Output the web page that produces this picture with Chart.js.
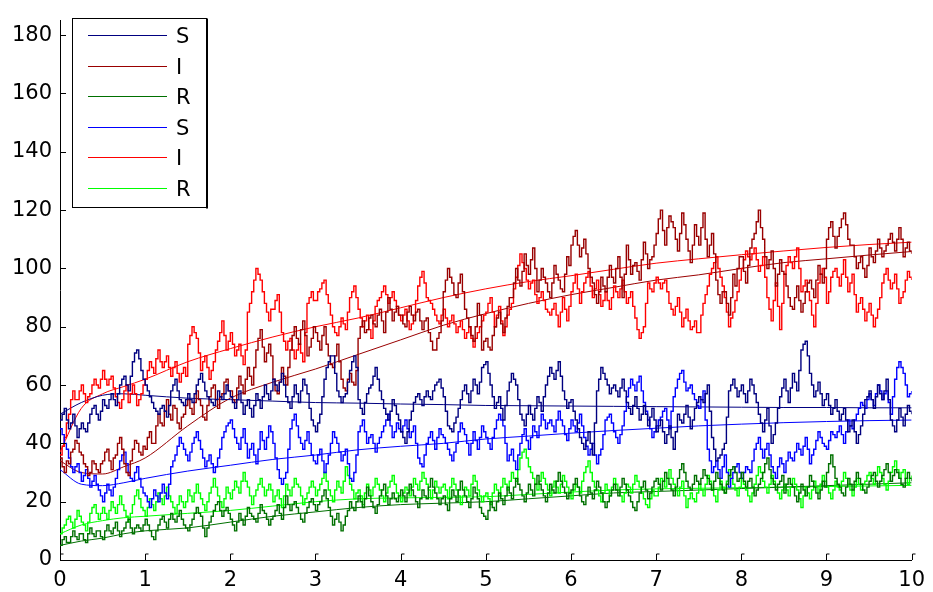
<!DOCTYPE html>
<html>
<head>
<meta charset="utf-8">
<title>SIR stochastic vs deterministic</title>
<script src="https://cdn.jsdelivr.net/npm/chart.js@4"></script>
<style>
  html, body { margin: 0; padding: 0; background: #fff; }
  #sir-chart { display: block; }
</style>
</head>
<body>
<canvas id="sir-chart" width="933" height="592"></canvas>
<script>
// legend labels, one per plotted series (dark run first, bright run second)
const seriesLabels = ['S', 'I', 'R', 'S', 'I', 'R'];
const seriesColors = ['#000080', '#990000', '#007000', '#0000ff', '#ff0000', '#00ff00'];

const yTickValues = [0, 20, 40, 60, 80, 100, 120, 140, 160, 180];

// stochastic runs, read every 0.025 time units from t = 0 to t = 10
// (one line = 0.25 time units)
const sDark = [
  48,50,52,48,45,47,50,46,42,45, 47,45,44,47,50,52,53,50,48,51,
  55,53,52,55,57,55,53,57,60,62, 63,60,58,63,68,71,72,69,65,62,
  60,58,56,54,52,51,50,52,53,51, 49,53,58,60,62,58,55,54,53,55,
  57,55,54,57,60,62,64,61,58,56, 55,54,53,55,58,56,55,57,60,58,
  56,54,52,55,58,54,50,53,55,52, 49,53,57,55,52,56,60,57,55,58,
  62,60,58,61,64,60,56,54,52,56, 60,57,54,58,62,60,57,52,48,46,
  44,47,50,56,62,66,68,70,70,64, 58,56,54,56,57,61,65,68,70,66,
  55,52,50,54,57,59,60,63,66,62, 58,55,52,50,48,51,55,53,50,48,
  44,42,40,44,48,51,54,56,57,55, 53,56,58,56,55,58,60,61,62,59,
  56,51,46,45,44,47,49,52,55,58, 60,57,54,58,62,60,57,61,66,67,
  68,64,60,56,52,54,56,52,48,53, 58,61,64,62,60,55,50,48,46,50,
  53,50,48,52,56,54,51,56,60,63, 66,64,62,65,68,63,58,55,52,54,
  55,51,48,45,42,40,38,41,44,40, 36,47,58,62,66,64,62,60,57,59,
  60,58,56,59,62,58,54,52,50,53, 56,52,48,50,53,50,46,49,52,48,
  44,46,48,44,40,43,46,42,38,44, 50,48,47,50,53,49,45,48,52,54,
  56,55,54,57,60,51,42,38,34,35, 36,38,40,49,58,60,62,59,56,58,
  60,57,54,58,62,60,57,54,50,47, 44,48,52,46,40,43,47,52,56,59,
  62,58,54,59,64,61,58,65,72,74, 75,70,64,60,56,58,61,57,53,55,
  57,53,50,52,55,51,48,50,52,48, 44,46,48,44,40,43,46,50,55,56,
  58,55,52,56,60,57,55,58,62,55, 48,46,44,48,52,49,46,50,53,51,
  50
];
const iDark = [
  35,32,30,34,33,37,38,41,40,37, 36,33,32,29,30,34,33,31,30,33,
  34,37,38,34,31,35,36,40,42,38, 33,30,29,34,38,41,40,37,36,39,
  38,42,44,40,40,46,50,47,46,51, 55,50,48,53,52,47,45,49,50,53,
  55,52,50,54,58,55,53,49,48,53, 56,59,60,55,52,56,57,61,62,58,
  58,55,54,59,63,60,57,62,66,63, 60,66,72,76,79,73,68,71,74,70,
  62,58,57,61,66,63,60,66,72,77, 80,76,74,79,82,77,70,73,76,80,
  78,75,72,77,80,74,70,67,66,70, 74,68,62,59,58,62,64,61,60,65,
  76,80,82,78,79,83,84,81,80,84, 86,82,78,85,90,86,82,85,87,84,
  84,81,80,85,87,84,82,85,86,82, 79,82,83,78,75,72,72,76,78,82,
  92,96,100,97,95,91,90,95,98,92, 86,83,80,77,75,80,88,84,72,75,
  76,73,72,77,80,83,85,81,78,83, 87,90,90,95,100,96,94,99,105,101,
  98,103,107,100,92,96,100,97,95,92, 90,95,101,98,96,93,92,98,104,101,
  108,111,113,108,104,107,110,105,100,97, 95,91,88,92,97,94,92,97,101,97,
  95,100,104,97,90,98,108,103,98,101, 102,99,96,103,109,105,100,103,104,108,
  112,117,120,113,108,114,118,116,114,110, 106,112,119,115,110,106,102,108,115,111,
  108,114,119,110,104,108,112,105,96,91, 88,92,92,88,84,90,98,94,100,104,
  104,99,95,101,107,110,112,116,120,114, 110,104,100,103,106,100,94,98,103,99,
  98,94,90,87,86,90,94,89,85,88, 92,95,96,93,90,96,101,98,95,100,
  110,114,116,111,107,111,114,117,119,115, 110,108,108,104,100,102,104,100,97,101,
  107,104,102,106,110,107,104,106,108,110, 112,109,106,110,114,110,104,107,109,106,
  105
];
const rDark = [
  5,7,8,6,6,8,10,8,7,9, 9,7,6,9,11,9,8,10,10,8,
  7,10,12,10,9,11,13,10,8,10, 11,13,14,11,9,11,12,11,10,12,
  14,12,10,8,7,10,12,14,15,13, 11,14,16,14,13,15,17,14,12,11,
  10,12,14,16,18,16,15,11,8,11, 13,15,17,19,20,17,15,17,18,16,
  14,12,10,13,16,14,12,15,18,16, 15,14,13,16,19,17,16,14,12,14,
  15,17,19,16,14,18,22,19,17,19, 20,18,16,14,13,16,18,20,21,19,
  17,19,20,22,24,21,18,15,12,14, 16,13,10,12,15,17,20,18,17,20,
  22,20,18,21,25,22,20,18,16,19, 22,24,26,22,19,21,23,21,20,22,
  24,22,20,23,26,24,22,20,18,21, 24,22,21,25,28,25,23,21,19,21,
  22,19,17,21,24,22,20,24,27,24, 22,20,18,21,25,23,21,18,16,15,
  14,17,20,18,17,20,23,21,19,22, 25,23,21,25,28,26,24,22,20,23,
  26,24,22,26,29,26,24,22,20,23, 26,24,23,27,30,27,25,23,21,23,
  24,26,28,25,22,20,19,22,25,23, 21,24,27,25,23,20,18,20,22,24,
  26,24,22,25,28,26,24,22,20,18, 17,20,23,25,27,24,21,23,25,27,
  28,26,24,27,30,28,26,24,22,25, 28,31,33,30,27,25,24,26,29,27,
  26,28,31,29,28,26,24,27,30,28, 26,24,23,26,29,31,32,30,27,28,
  30,27,25,27,28,25,22,24,26,28, 30,33,35,31,28,26,24,26,27,29,
  23,26,28,26,25,22,20,23,26,24, 22,25,29,27,25,23,21,24,27,25,
  30,33,36,32,28,26,25,23,22,25, 28,26,24,27,30,28,26,24,23,25,
  27,29,30,27,25,27,29,31,33,30, 27,29,31,30,28,26,25,28,30,28,
  27
];
const sBright = [
  45,43,40,38,35,32,30,32,33,30, 27,29,31,28,25,27,29,26,24,22,
  20,23,26,24,22,25,28,31,34,36, 37,33,30,28,27,30,32,28,25,23,
  22,20,18,21,24,22,20,23,26,23, 21,26,32,34,36,39,42,40,38,36,
  34,37,40,42,44,41,38,35,32,34, 36,33,30,32,35,38,42,44,46,47,
  48,45,42,40,38,42,45,40,35,38, 40,36,33,38,44,41,38,42,46,44,
  40,35,31,28,26,28,30,38,45,48, 50,46,42,40,38,41,44,40,36,34,
  33,36,38,34,30,33,36,40,44,42, 40,37,34,36,38,33,28,27,30,36,
  44,46,48,44,40,42,43,40,37,40, 42,44,46,48,50,46,42,44,47,45,
  44,46,48,45,42,44,46,40,35,33, 32,36,40,42,44,41,38,42,45,43,
  42,40,38,36,34,37,40,44,47,45, 43,40,36,40,44,41,38,42,46,44,
  42,40,38,42,45,48,50,48,46,40, 34,36,38,34,31,36,40,43,45,41,
  38,42,46,44,42,46,50,48,45,47, 48,46,44,48,51,48,46,43,41,45,
  48,46,44,47,50,46,42,39,36,38, 40,36,33,36,38,43,48,49,50,47,
  44,42,40,43,46,51,56,59,62,60, 58,61,63,58,54,51,48,45,42,44,
  46,48,49,51,52,48,45,51,56,59, 62,64,65,61,58,59,60,57,55,53,
  52,55,58,48,38,34,30,32,34,31, 28,32,36,30,25,28,30,32,33,30,
  28,30,32,31,30,34,38,40,42,38, 35,38,40,36,32,30,28,32,35,33,
  30,34,37,35,34,37,40,38,36,39, 42,38,33,36,38,41,44,42,40,39,
  38,41,44,43,42,44,46,43,40,44, 48,46,45,48,50,52,54,53,52,55,
  57,55,53,57,60,58,55,57,58,54, 50,56,62,66,68,66,64,60,56,57,
  58
];
const iBright = [
  36,39,42,47,50,55,58,55,55,58, 60,57,54,56,57,60,62,60,59,62,
  65,62,60,62,63,59,56,54,52,55, 58,60,54,57,60,57,53,55,57,60,
  62,65,68,66,64,69,72,68,66,68, 70,66,63,66,68,64,61,64,66,63,
  74,77,80,78,76,71,65,68,70,66, 62,65,68,72,75,78,82,77,72,75,
  78,74,70,72,74,70,67,72,85,88, 92,96,100,98,96,92,88,85,82,86,
  86,89,91,85,78,75,72,75,76,72, 69,72,74,71,68,78,88,90,92,89,
  89,92,93,95,96,91,88,84,80,78, 77,80,83,81,79,85,90,92,94,90,
  86,83,80,82,84,79,76,82,87,89, 90,92,94,91,88,90,92,89,87,84,
  82,84,86,82,79,81,84,89,94,97, 99,95,90,89,88,86,84,82,81,84,
  86,83,80,82,84,81,78,80,82,79, 76,78,80,76,73,76,78,80,82,84,
  85,88,90,85,80,84,87,82,77,80, 84,86,88,93,97,101,105,102,100,96,
  93,95,96,91,88,90,92,89,86,85, 84,86,88,84,80,85,90,86,82,87,
  92,95,98,93,88,92,95,97,99,94, 90,93,96,91,87,89,92,89,86,90,
  94,92,90,93,96,92,88,90,92,87, 83,79,76,78,80,88,95,93,92,95,
  97,95,93,95,96,92,88,86,84,87, 90,85,80,83,86,82,79,80,82,78,
  78,84,88,91,94,98,100,102,104,100, 97,94,90,85,80,83,85,89,92,96,
  100,103,106,104,103,105,107,103,99,101, 104,97,90,86,82,89,95,87,79,88,
  98,101,104,102,100,104,107,100,92,94, 96,92,89,84,80,88,95,98,100,97,
  88,92,97,99,100,97,94,98,103,97, 92,95,98,91,85,88,90,86,82,85,
  88,84,80,83,86,90,95,98,100,96, 93,95,98,93,88,90,92,96,99,97,
  96
];
const rBright = [
  9,11,12,14,15,13,11,14,17,15, 13,12,10,13,16,18,19,16,14,16,
  18,16,14,17,20,18,16,19,22,19, 17,15,13,16,19,22,24,21,18,17,
  15,18,21,19,17,20,23,21,19,22, 25,22,20,18,16,19,22,20,18,20,
  24,22,20,23,26,23,21,19,17,20, 23,25,28,25,22,20,18,21,25,23,
  21,24,27,25,23,27,30,27,25,22, 19,22,24,26,28,25,22,24,26,24,
  20,22,24,21,18,22,26,24,22,25, 28,26,25,22,19,21,23,25,27,25,
  22,24,26,28,30,27,24,22,20,24, 27,25,23,27,32,29,26,24,21,23,
  24,22,19,23,26,24,22,25,28,26, 24,22,20,23,25,27,29,26,23,22,
  20,23,25,24,22,25,28,26,24,27, 30,28,26,24,21,24,27,25,23,25,
  26,24,21,25,28,26,24,22,19,22, 25,24,22,26,29,27,24,22,20,22,
  23,21,19,23,26,24,22,25,28,26, 24,27,30,28,27,31,35,37,38,35,
  32,30,28,26,24,27,30,28,26,24, 22,25,27,25,23,26,29,27,25,23,
  21,24,26,25,23,27,30,32,34,30, 27,25,24,22,20,23,26,24,22,25,
  28,26,24,22,20,23,26,25,23,26, 29,27,25,23,21,19,18,21,24,22,
  22,25,28,27,25,28,31,28,26,24, 22,25,27,22,18,21,23,21,20,23,
  26,24,22,26,29,27,24,22,20,24, 27,25,23,27,31,28,26,24,22,25,
  28,26,24,22,20,23,26,29,32,30, 27,25,23,26,29,27,25,23,21,24,
  26,24,22,25,28,26,24,21,18,22, 25,23,21,24,27,25,23,26,29,27,
  25,23,21,24,27,25,24,27,30,28, 26,24,22,25,28,26,24,26,27,29,
  30,28,26,29,32,30,28,26,24,27, 30,32,34,31,28,30,31,28,26,28,
  29
];

// deterministic (ODE) curves
const odeTimes = [0,0.25,0.5,0.75,1,1.5,2,2.5,3,3.5,4,4.5,5,5.5,6,6.5,7,7.5,8,8.5,9,9.5,10];
const sDarkOde = [50,54,56.5,57,56.5,55.5,55,54.5,54,53.8,53.5,53.3,53,52.9,52.8,52.7,52.6,52.5,52.4,52.3,52.3,52.2,52.2];
const iDarkOde = [34,30,29.5,32,35,46,55.5,61,65.5,70.5,75.5,80.5,84.5,88,91,93.5,96,97.8,100,102,103.3,104.6,105.8];
const rDarkOde = [5,6.5,7.5,9,10,11,13,15,16.5,18,19,19.5,20,21,22,23,23.5,24,24.5,25,25.5,26,26.5];
const sBrightOde = [31,26,25.5,26.5,28,30.5,32.5,34.5,36,37.8,39,40,41.5,42.5,43.5,44.4,45.2,46,46.6,47.1,47.5,47.8,48];
const iBrightOde = [37,52,57,59.5,62,68,72.5,76.5,80,83,86.5,90,93,95.5,97.5,99.7,101.8,103.3,104.7,106,107.2,108.2,109];
const rBrightOde = [9,12,13.5,14.5,15,16,17,18.5,20,21,21.3,21.5,21.7,22.5,23.3,24,24.4,24.6,24.8,25,25.2,25.4,25.6];

// sample times of the stochastic runs (every 0.025)
const runTimes = sDark.map((_, i) => i / 40);

const runs = [sDark, iDark, rDark, sBright, iBright, rBright];
const odes = [sDarkOde, iDarkOde, rDarkOde, sBrightOde, iBrightOde, rBrightOde];

function toPoints(xs, ys) {
    return ys.map((v, i) => ({ x: xs[i], y: v }));
}

const datasets = [];
runs.forEach((vals, k) => {
    datasets.push({
        label: seriesLabels[k],
        data: toPoints(runTimes, vals),
        borderColor: seriesColors[k],
        borderWidth: 1.4,
        pointRadius: 0,
        stepped: true,
        fill: false
    });
});
odes.forEach((vals, k) => {
    datasets.push({
        label: seriesLabels[k] + ' ode',
        data: toPoints(odeTimes, vals),
        borderColor: seriesColors[k],
        borderWidth: 1,
        pointRadius: 0,
        cubicInterpolationMode: 'monotone',
        fill: false
    });
});

// inward tick marks, like the old matlab axes
const axisTicks = {
    id: 'axisTicks',
    afterDraw(chart) {
        const { ctx, scales: { x, y } } = chart;
        ctx.save();
        ctx.strokeStyle = '#000';
        ctx.lineWidth = 1;
        ctx.beginPath();
        x.ticks.forEach(t => {
            const px = Math.round(x.getPixelForValue(t.value)) + 0.5;
            ctx.moveTo(px, y.bottom);
            ctx.lineTo(px, y.bottom - 6);
            ctx.lineTo(px + 3, y.bottom - 6);
        });
        y.ticks.forEach(t => {
            const py = Math.round(y.getPixelForValue(t.value)) + 0.5;
            ctx.moveTo(x.left, py);
            ctx.lineTo(x.left + 6, py);
        });
        ctx.stroke();
        ctx.restore();
    }
};

// boxed legend in the upper left corner
const boxLegend = {
    id: 'boxLegend',
    afterDraw(chart) {
        const ctx = chart.ctx;
        const left = 72.5, top = 18.5, w = 134, h = 189;
        ctx.save();
        ctx.fillStyle = '#fff';
        ctx.fillRect(left, top, w, h);
        ctx.strokeStyle = '#000';
        ctx.lineWidth = 1;
        ctx.strokeRect(left, top, w, h);
        ctx.lineWidth = 2;
        ctx.beginPath();
        ctx.moveTo(left + w + 0.5, top);
        ctx.lineTo(left + w + 0.5, top + h + 1);
        ctx.stroke();
        ctx.font = '21px "DejaVu Sans"';
        ctx.textBaseline = 'middle';
        ctx.fillStyle = '#000';
        ctx.lineWidth = 1;
        seriesLabels.forEach((lab, k) => {
            const yy = Math.round(35 + k * 30.6) + 0.5;
            ctx.strokeStyle = seriesColors[k];
            ctx.beginPath();
            ctx.moveTo(88, yy);
            ctx.lineTo(167, yy);
            ctx.stroke();
            ctx.fillText(lab, 176, yy + 2);
        });
        ctx.restore();
    }
};

new Chart(document.getElementById('sir-chart'), {
    type: 'line',
    data: { datasets: datasets },
    options: {
        responsive: false,
        animation: false,
        devicePixelRatio: 1,
        layout: { padding: { top: 5, right: 17, left: 0, bottom: 0 } },
        plugins: {
            legend: { display: false },
            tooltip: { enabled: false }
        },
        scales: {
            x: {
                type: 'linear',
                min: 0,
                max: 10,
                ticks: {
                    stepSize: 1,
                    color: '#000',
                    padding: 8,
                    maxRotation: 0,
                    font: { family: 'DejaVu Sans', size: 21 }
                },
                grid: { display: false, drawTicks: false },
                border: { display: true, color: '#000', width: 1 },
                afterFit(scale) { scale.height = 32; }
            },
            y: {
                type: 'linear',
                min: 0,
                max: 185,
                ticks: {
                    stepSize: 20,
                    color: '#000',
                    padding: 8,
                    font: { family: 'DejaVu Sans', size: 21 }
                },
                afterBuildTicks(scale) {
                    scale.ticks = yTickValues.map(v => ({ value: v }));
                },
                grid: { display: false, drawTicks: false },
                border: { display: true, color: '#000', width: 1 },
                afterFit(scale) { scale.width = 60; }
            }
        }
    },
    plugins: [axisTicks, boxLegend]
});
</script>
</body>
</html>
